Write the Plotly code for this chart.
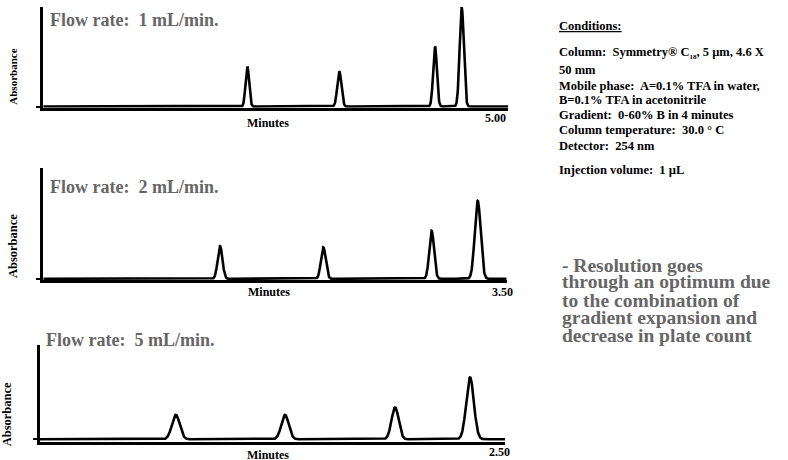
import numpy as np
import plotly.graph_objects as go

W, H = 788, 460

# ---- data (peak tables per flow rate) ----
flow_labels = ["Flow rate:\u00a0 1 mL/min.", "Flow rate:\u00a0 2 mL/min.", "Flow rate:\u00a0 5 mL/min."]
end_times = [5.00, 3.50, 2.50]
end_labels = ["5.00", "3.50", "2.50"]

rt_1 = [2.194, 3.183, 4.212, 4.499]
ht_1 = [40, 35, 60, 99]
sd_1 = [0.019, 0.022, 0.020, 0.022]

rt_2 = [1.335, 2.115, 2.933, 3.281]
ht_2 = [32.5, 31.5, 48, 78]
sd_2 = [0.018, 0.018, 0.018, 0.022]

rt_5 = [0.730, 1.317, 1.909, 2.312]
ht_5 = [24.5, 24.5, 32, 62]
sd_5 = [0.021, 0.020, 0.019, 0.0205]

conditions_lines = [
    "<u>Conditions:</u>",
    "Column:\u00a0 Symmetry® C<sub><span style='font-size:7px'>18</span></sub>, 5 µm, 4.6 X",
    "50 mm",
    "Mobile phase:\u00a0 A=0.1% TFA in water,",
    "B=0.1% TFA in acetonitrile",
    "Gradient:\u00a0 0-60% B in 4 minutes",
    "Column temperature:\u00a0 30.0 ° C",
    "Detector:\u00a0 254 nm",
    "Injection volume:\u00a0 1 µL",
]
note_lines = [
    "- Resolution goes",
    "through an optimum due",
    "to the combination of",
    "gradient expansion and",
    "decrease in plate count",
]

peaks = [(rt_1, ht_1, sd_1), (rt_2, ht_2, sd_2), (rt_5, ht_5, sd_5)]

# ---- layout (pixel boxes) ----
panels = [
    dict(l=43.3, r=508.3, top=7, axis=107.7, ymin=-1.2,
         flow=(48, 20), absb=(13, 76.7, 11), minutes=(268, 122.7), endlab=(0, 118.3)),
    dict(l=43.3, r=506.7, top=168.3, axis=280, ymin=-1.2,
         flow=(48.3, 187.5), absb=(13.3, 245.8, 12.5), minutes=(268.5, 291.7), endlab=(8.3, 291.7)),
    dict(l=40, r=505, top=345, axis=441.7, ymin=-2.4,
         flow=(44.3, 339.5), absb=(7.3, 414, 12.5), minutes=(268.3, 454.5), endlab=(7, 451.7)),
]
cond_y = [26, 53, 70.5, 86.3, 100, 114.7, 129.7, 146.3, 170]
note_y = [265, 281.7, 300, 317.3, 335]

def px(x):
    return x / W

def py(y):
    return 1 - y / H

SERIF = "Liberation Serif, Times New Roman, serif"
GREY = "#666666"

fig = go.Figure()
annotations = []
layout_axes = {}

for i, (p, (rt, ht, sd)) in enumerate(zip(panels, peaks)):
    n = i + 1
    xmax = end_times[i]
    x = np.linspace(0, xmax, 2500)
    y = np.zeros_like(x)
    for t, h, s in zip(rt, ht, sd):
        y += h * np.exp(-0.5 * ((x - t) / s) ** 2)
    xa = "x" if n == 1 else f"x{n}"
    ya = "y" if n == 1 else f"y{n}"
    fig.add_trace(go.Scatter(x=x, y=y, mode="lines", xaxis=xa, yaxis=ya,
                             line=dict(color="black", width=2.6), hoverinfo="skip",
                             showlegend=False))
    height = p["axis"] - p["top"]
    layout_axes[f"xaxis{'' if n == 1 else n}"] = dict(
        domain=[px(p["l"]), px(p["r"])], range=[0, xmax], anchor=ya,
        showline=True, linecolor="black", linewidth=3, showgrid=False,
        zeroline=False, showticklabels=False, ticks="")
    layout_axes[f"yaxis{'' if n == 1 else n}"] = dict(
        domain=[py(p["axis"]), py(p["top"])], range=[p["ymin"], p["ymin"] + height],
        anchor=xa, showline=True, linecolor="black", linewidth=3, showgrid=False,
        zeroline=False, showticklabels=False, tickvals=[0], ticks="outside",
        ticklen=4, tickwidth=2, tickcolor="black")

    fx, fy = p["flow"]
    annotations.append(dict(text=f"<b>{flow_labels[i]}</b>", x=px(fx), y=py(fy),
                            xref="paper", yref="paper", xanchor="left", yanchor="middle",
                            showarrow=False, font=dict(family=SERIF, size=18, color=GREY)))
    ax, ay, asz = p["absb"]
    annotations.append(dict(text="<b>Absorbance</b>", x=px(ax), y=py(ay), textangle=-90,
                            xref="paper", yref="paper", xanchor="center", yanchor="middle",
                            showarrow=False, font=dict(family=SERIF, size=asz, color="black")))
    mx, my = p["minutes"]
    annotations.append(dict(text="<b>Minutes</b>", x=px(mx), y=py(my),
                            xref="paper", yref="paper", xanchor="center", yanchor="middle",
                            showarrow=False, font=dict(family=SERIF, size=12, color="black")))
    shift, ey = p["endlab"]
    annotations.append(dict(text=f"<b>{end_labels[i]}</b>", x=end_times[i], y=py(ey),
                            xref=xa, yref="paper", xanchor="right", yanchor="middle",
                            xshift=shift, showarrow=False,
                            font=dict(family=SERIF, size=12, color="black")))

for t, yy in zip(conditions_lines, cond_y):
    annotations.append(dict(text=f"<b>{t}</b>", x=px(557), y=py(yy), xref="paper", yref="paper",
                            xanchor="left", yanchor="middle", showarrow=False,
                            font=dict(family=SERIF, size=12.5, color="black")))
for t, yy in zip(note_lines, note_y):
    annotations.append(dict(text=f"<b>{t}</b>", x=px(560), y=py(yy), xref="paper", yref="paper",
                            xanchor="left", yanchor="middle", showarrow=False,
                            font=dict(family=SERIF, size=19.5, color=GREY)))

fig.update_layout(
    width=W, height=H, margin=dict(l=0, r=0, t=0, b=0),
    paper_bgcolor="white", plot_bgcolor="white",
    annotations=annotations, showlegend=False, **layout_axes)

fig.write_html("out.html", config={"displayModeBar": False},
               post_script="document.body.style.margin='0';document.body.style.padding='0';")
